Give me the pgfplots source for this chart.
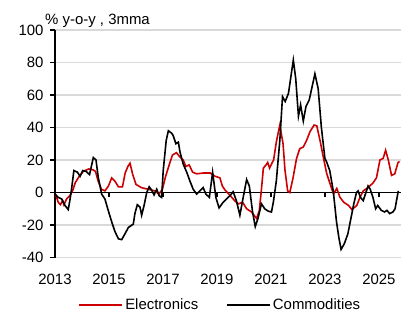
\documentclass[border=0pt]{standalone}
\usepackage{fontspec}
\setmainfont{Liberation Sans}
\usepackage{pgfplots}
\pgfplotsset{compat=1.18}
\definecolor{elec}{RGB}{204,0,0}
\definecolor{gridc}{RGB}{217,217,217}
\begin{document}
\begin{tikzpicture}
\begin{axis}[
  scale only axis, width=346bp, height=227.5bp,
  xmin=2013, xmax=2025.82, ymin=-40, ymax=100,
  axis x line=middle, axis y line=left,
  axis line style={-, line width=1.5bp, black},
  hide obscured x ticks=false,
  xtick={2013,2015,2017,2019,2021,2023,2025},
  ytick={-40,-20,0,20,40,60,80,100},
  tick align=outside, major tick length=5bp,
  tick style={line width=1.3bp, black},
  /pgf/number format/assume math mode=true,
  /pgf/number format/1000 sep={},
  tick label style={font=\fontsize{15}{18}\selectfont},
  xticklabel style={anchor=center, yshift=-82bp},
  yticklabel style={anchor=east, xshift=-3bp},
  ymajorgrids, grid style={color=gridc, line width=1.2bp},
  legend columns=2,
  legend style={at={(0.478,-0.209)}, anchor=center, draw=none, fill=none,
    font=\fontsize{15}{18}\selectfont,
    /tikz/every even column/.append style={column sep=26bp}},
  legend image code/.code={\draw[#1] (0bp,0bp) -- (43bp,0bp);},
]
\addplot[elec, line width=1.6bp] coordinates {
(2013.00,-1) (2013.06,-3) (2013.12,-6) (2013.20,-7.5) (2013.28,-5) (2013.33,-7.5)
(2013.43,-4) (2013.55,-2) (2013.65,1) (2013.75,6) (2013.90,10) (2014.05,13)
(2014.25,14.5) (2014.40,14) (2014.50,13) (2014.60,7) (2014.72,2) (2014.85,1)
(2014.98,4) (2015.10,9) (2015.22,7) (2015.35,3.5) (2015.50,3.5) (2015.60,12)
(2015.70,16) (2015.78,18) (2015.88,11) (2016.00,5) (2016.20,3) (2016.45,2)
(2016.70,1) (2016.85,-1) (2016.98,2) (2017.10,10) (2017.25,18) (2017.35,23)
(2017.50,24.5) (2017.62,22) (2017.75,20) (2017.85,16) (2017.97,17) (2018.10,12.5)
(2018.25,11.5) (2018.50,12) (2018.75,12) (2018.93,10) (2019.11,9) (2019.20,4)
(2019.30,1.5) (2019.50,-2) (2019.65,-5) (2019.80,-7) (2019.95,-6) (2020.10,-10)
(2020.28,-12) (2020.47,-16) (2020.57,-11) (2020.65,2) (2020.72,15) (2020.82,17)
(2020.88,18.5) (2020.95,15) (2021.05,18.5) (2021.10,20) (2021.20,31) (2021.33,41.5)
(2021.45,30) (2021.52,14) (2021.62,1) (2021.70,0) (2021.82,9) (2021.95,21)
(2022.07,27) (2022.20,28) (2022.32,32) (2022.45,37.5) (2022.60,41.5) (2022.70,41)
(2022.82,32) (2022.95,21) (2023.07,11.5) (2023.20,5) (2023.32,-1) (2023.44,2.5)
(2023.56,-3) (2023.70,-6) (2023.88,-8) (2024.00,-10.5) (2024.18,-8) (2024.30,-3)
(2024.42,1) (2024.60,3) (2024.79,6) (2024.91,9) (2025.04,20) (2025.16,21)
(2025.25,26) (2025.35,20) (2025.47,10.5) (2025.59,11.5) (2025.71,18.5) (2025.77,19)
};
\addlegendentry{Electronics}
\addplot[black, line width=1.6bp] coordinates {
(2013.00,-1) (2013.12,-3) (2013.25,-4) (2013.37,-8) (2013.49,-10.5) (2013.55,-5)
(2013.62,3) (2013.70,13.5) (2013.83,12.5) (2013.93,10) (2014.03,13.5) (2014.15,13)
(2014.28,11) (2014.34,15.5) (2014.42,21.5) (2014.52,20) (2014.60,9.5) (2014.73,-1)
(2014.85,-4) (2014.98,-11.5) (2015.10,-18) (2015.22,-24) (2015.35,-28.5) (2015.47,-29)
(2015.59,-25.5) (2015.72,-21.5) (2015.90,-19.5) (2015.96,-13) (2016.05,-7.5) (2016.15,-9)
(2016.21,-14) (2016.30,-8) (2016.40,0) (2016.49,3.5) (2016.58,1.5) (2016.67,-1.5)
(2016.77,2) (2016.86,-2) (2016.95,-3) (2017.01,13.5) (2017.12,32) (2017.20,38)
(2017.32,36.5) (2017.38,35) (2017.48,30) (2017.57,31) (2017.63,25) (2017.75,17.5)
(2017.88,12.5) (2018.00,7) (2018.12,2) (2018.25,-1) (2018.37,1) (2018.49,3)
(2018.59,-1) (2018.72,-3) (2018.84,12.5) (2018.96,-3) (2019.08,-9.5) (2019.23,-6)
(2019.48,-2) (2019.60,0.5) (2019.72,-5) (2019.85,-14) (2019.95,-5) (2020.10,8)
(2020.20,4) (2020.32,-12) (2020.42,-21) (2020.52,-16) (2020.65,-7) (2020.77,-10)
(2020.90,-11.5) (2021.02,-12) (2021.09,-6) (2021.20,7) (2021.33,32) (2021.43,59)
(2021.53,56) (2021.65,61) (2021.83,81.5) (2021.92,70) (2022.02,47) (2022.10,54)
(2022.20,44) (2022.30,53) (2022.42,57) (2022.63,73) (2022.75,64) (2022.87,40)
(2023.00,21) (2023.06,19) (2023.18,13.5) (2023.31,1) (2023.43,-18) (2023.52,-28)
(2023.60,-35) (2023.72,-31.5) (2023.85,-25.5) (2024.00,-13) (2024.07,-7) (2024.17,0)
(2024.23,1) (2024.32,-3) (2024.42,-5) (2024.54,1) (2024.60,4) (2024.68,2)
(2024.78,-3) (2024.88,-10) (2024.96,-8) (2025.09,-11) (2025.21,-12) (2025.30,-11)
(2025.40,-13) (2025.52,-12) (2025.60,-10) (2025.72,1)
};
\addlegendentry{Commodities}
\end{axis}
\node[anchor=base west, inner sep=0pt, font=\fontsize{15}{18}\selectfont] at (-10bp,232.5bp) {\% y-o-y , 3mma};
\pgfresetboundingbox
\useasboundingbox (-55bp,-64.5bp) rectangle (353bp,257.5bp);
\end{tikzpicture}
\end{document}
